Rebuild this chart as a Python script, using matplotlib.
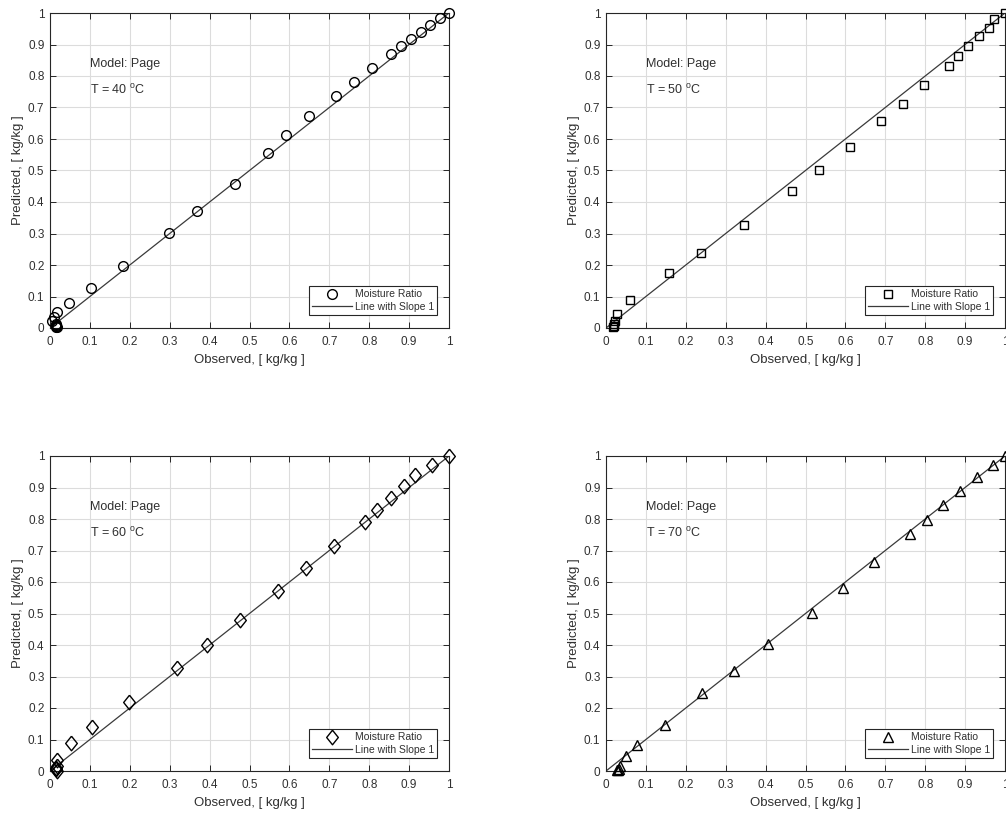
import numpy as np
import matplotlib.pyplot as plt
from matplotlib.ticker import FuncFormatter, MultipleLocator

plt.rcParams['font.family'] = ['Liberation Sans', 'DejaVu Sans']
plt.rcParams['mathtext.fontset'] = 'custom'
plt.rcParams['mathtext.rm'] = 'Liberation Sans'

# observed / predicted moisture ratio for each temperature
obs_40 = [0.004, 0.010, 0.018, 0.015, 0.015, 0.016, 0.017, 0.014, 0.047, 0.104, 0.182, 0.298,
          0.369, 0.464, 0.546, 0.591, 0.650, 0.716, 0.761, 0.807, 0.855, 0.879, 0.904,
          0.929, 0.952, 0.977, 1.0]
pred_40 = [0.022, 0.035, 0.051, 0.012, 0.007, 0.004, 0.002, 0.009, 0.080, 0.126, 0.197, 0.303,
           0.372, 0.458, 0.557, 0.613, 0.672, 0.735, 0.780, 0.825, 0.871, 0.894, 0.917,
           0.939, 0.962, 0.984, 1.0]

obs_50 = [0.018, 0.019, 0.020, 0.023, 0.028, 0.059, 0.159, 0.239, 0.346, 0.465, 0.535,
          0.612, 0.689, 0.744, 0.798, 0.860, 0.883, 0.908, 0.934, 0.961, 0.973, 1.0]
pred_50 = [0.002, 0.005, 0.012, 0.021, 0.045, 0.090, 0.174, 0.239, 0.326, 0.436, 0.502,
           0.575, 0.656, 0.712, 0.773, 0.833, 0.864, 0.896, 0.926, 0.953, 0.982, 1.0]

obs_60 = [0.017, 0.015, 0.016, 0.017, 0.017, 0.052, 0.106, 0.197, 0.319, 0.393, 0.475,
          0.571, 0.641, 0.712, 0.789, 0.820, 0.854, 0.887, 0.915, 0.958, 1.0]
pred_60 = [0.0, 0.005, 0.010, 0.016, 0.035, 0.089, 0.141, 0.218, 0.328, 0.399, 0.480,
           0.573, 0.643, 0.714, 0.790, 0.829, 0.866, 0.904, 0.941, 0.973, 1.0]

obs_70 = [0.028, 0.030, 0.032, 0.035, 0.051, 0.078, 0.147, 0.241, 0.321, 0.407, 0.516,
          0.594, 0.672, 0.763, 0.804, 0.845, 0.888, 0.931, 0.971, 1.0]
pred_70 = [0.002, 0.004, 0.006, 0.017, 0.049, 0.084, 0.145, 0.247, 0.317, 0.402, 0.503,
           0.580, 0.663, 0.752, 0.798, 0.846, 0.888, 0.933, 0.973, 1.0]

temps = [40, 50, 60, 70]
observed = [obs_40, obs_50, obs_60, obs_70]
predicted = [pred_40, pred_50, pred_60, pred_70]
# slightly tall diamond, like the reference
diamond = [(0, 1), (0.8, 0), (0, -1), (-0.8, 0), (0, 1)]
markers = ['o', 's', diamond, '^']
msizes = [7, 5.5, 10.5, 6.5]

fig = plt.figure(figsize=(10.06, 8.14), dpi=100)
W, H = 1006, 814
boxes = [(50, 13), (606, 13), (50, 456), (606, 456)]
aw, ah = 399, 315

fmt = FuncFormatter(lambda v, p: '%g' % round(v, 2))
txtc = '#303030'

for i in range(4):
    x0, y0 = boxes[i]
    ax = fig.add_axes([x0 / W, 1 - (y0 + ah) / H, aw / W, ah / H])
    ax.plot(observed[i], predicted[i], linestyle='none', marker=markers[i],
            markersize=msizes[i], markerfacecolor='none', markeredgecolor='black',
            markeredgewidth=1.0, label='Moisture Ratio', clip_on=False, zorder=3)
    ax.plot([0, 1], [0, 1], color='#3a3a3a', linewidth=0.9, label='Line with Slope 1', zorder=2)
    ax.set_xlim(0, 1)
    ax.set_ylim(0, 1)
    ax.xaxis.set_major_locator(MultipleLocator(0.1))
    ax.yaxis.set_major_locator(MultipleLocator(0.1))
    ax.xaxis.set_major_formatter(fmt)
    ax.yaxis.set_major_formatter(fmt)
    ax.grid(True, color='#dcdcdc', linewidth=0.8)
    ax.set_axisbelow(True)
    ax.tick_params(direction='in', top=True, right=True, length=4, width=0.7,
                   labelsize=8.5, labelcolor=txtc, color='#262626')
    ax.tick_params(axis='x', pad=6)
    ax.tick_params(axis='y', pad=4)
    for s in ax.spines.values():
        s.set_color('#262626')
        s.set_linewidth(0.8)
    ax.set_xlabel('Observed, [ kg/kg ]', fontsize=9.5, color=txtc, labelpad=4)
    ax.set_ylabel('Predicted, [ kg/kg ]', fontsize=9.5, color=txtc, labelpad=3)
    ax.text(0.1, 0.837, 'Model: Page', fontsize=9, color=txtc, va='center')
    ax.text(0.1, 0.756, 'T = %d $^{\\mathrm{o}}$C' % temps[i], fontsize=9,
            color=txtc, va='center')
    leg = ax.legend(loc='lower right', bbox_to_anchor=(0.97, 0.041), borderaxespad=0,
                    fontsize=7.5, fancybox=False, edgecolor='#262626', framealpha=1,
                    handlelength=3.8, handletextpad=0.25, borderpad=0.3, labelspacing=0.25)
    leg.get_frame().set_linewidth(0.8)
    for t in leg.get_texts():
        t.set_color(txtc)

plt.savefig('out.png', dpi=100)
plt.close()
